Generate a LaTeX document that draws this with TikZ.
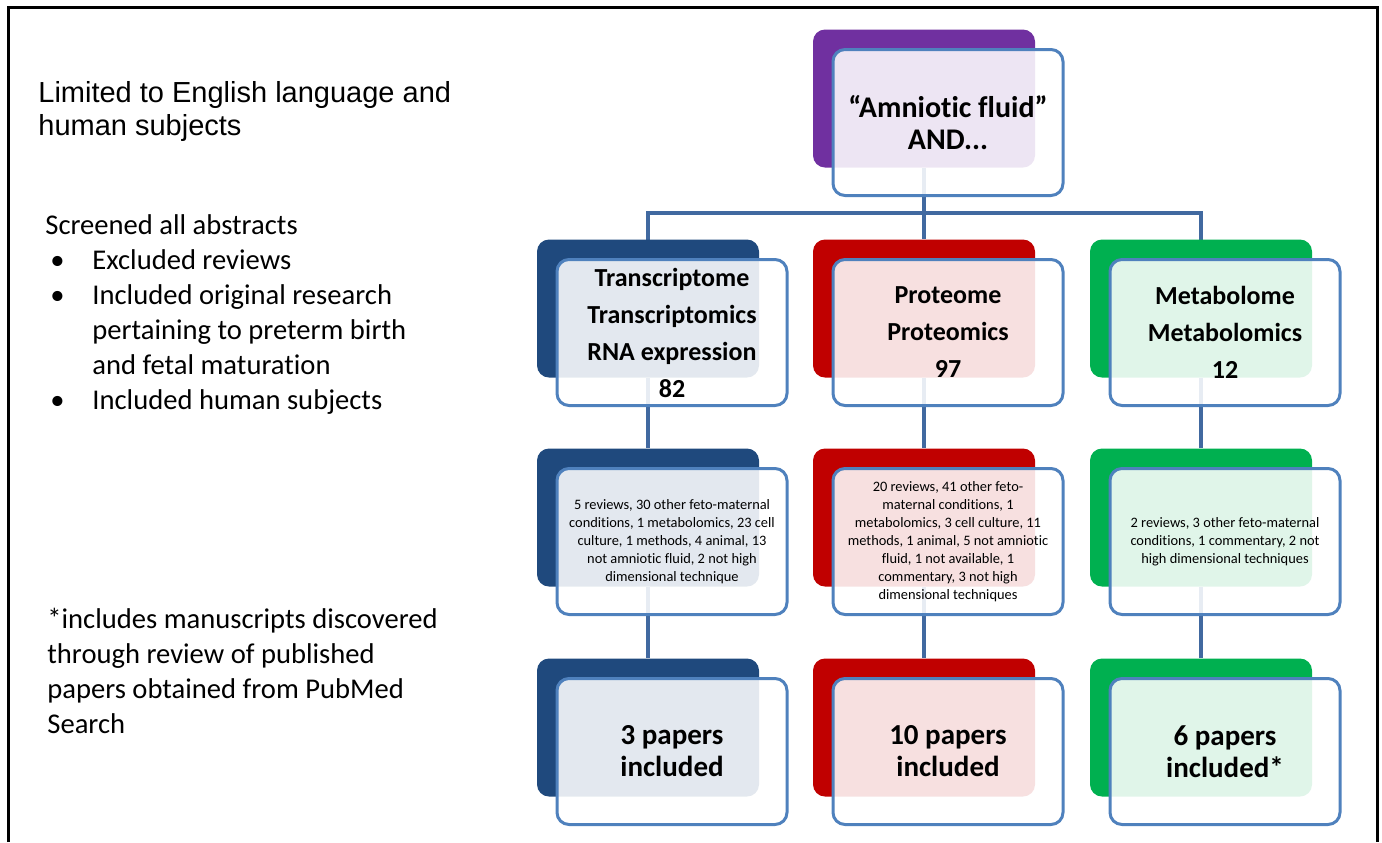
\documentclass[tikz,border=0pt]{standalone}
\usepackage{fontspec}
\setmainfont{Carlito}[Ligatures=NoCommon]
\newfontfamily\arialfont{Liberation Sans}
\usetikzlibrary{backgrounds}

\definecolor{boxnavy}{RGB}{31,73,125}
\definecolor{boxred}{RGB}{192,0,0}
\definecolor{boxgreen}{RGB}{0,176,80}
\definecolor{boxpurple}{RGB}{112,48,160}
\definecolor{rimblue}{RGB}{79,129,189}
\definecolor{linkblue}{RGB}{65,105,160}

\tikzset{
  backcard/.style={rounded corners=6pt, minimum width=111pt, minimum height=69pt, inner sep=0pt, fill=#1},
  frontcard/.style={rounded corners=6pt, minimum width=115pt, minimum height=73pt, inner sep=0pt,
    draw=rimblue, line width=1.5pt, fill=white, fill opacity=0.88, text opacity=1, align=center,
    xshift=12pt, yshift=-12pt},
  headtext/.style={font=\bfseries\fontsize{13}{18.5}\selectfont},
  notetext/.style={font=\fontsize{7.2}{9}\selectfont},
  counttext/.style={font=\bfseries\fontsize{14.5}{16}\selectfont},
  sidetext/.style={anchor=north west, inner sep=0pt, align=left},
  link/.style={draw=linkblue, line width=2pt},
}

\begin{document}
\begin{tikzpicture}[x=0.5pt, y=-0.5pt]
        \useasboundingbox (0,0) rectangle (1382,842);
        \draw [line width=1.5pt] (8,842) -- (8,7) -- (1377,7) -- (1377,842);

        % left column texts
        \node [sidetext, font=\arialfont\fontsize{14.5}{16.5}\selectfont] (limits) at (38,81)
          {Limited to English language and\\human subjects};
        \node [sidetext, font=\fontsize{14.3}{17.5}\selectfont] (screen) at (45,214)
          {Screened all abstracts\\
           \makebox[23.5pt][l]{\hspace*{2.5pt}\textbullet}Excluded reviews\\
           \makebox[23.5pt][l]{\hspace*{2.5pt}\textbullet}Included original research\\
           \hspace*{23.5pt}pertaining to preterm birth\\
           \hspace*{23.5pt}and fetal maturation\\
           \makebox[23.5pt][l]{\hspace*{2.5pt}\textbullet}Included human subjects};
        \node [sidetext, font=\fontsize{14.3}{17.5}\selectfont] (footnote) at (47,608)
          {*includes manuscripts discovered\\through review of published\\papers obtained from PubMed\\Search};

        % search term
        \node [backcard=boxpurple] (queryback) at (924,98.5) {};
        \node [frontcard, font=\bfseries\fontsize{15}{16}\selectfont] (query) at (queryback.center)
          {“Amniotic fluid”\\AND...};

        % first row
        \node [backcard=boxnavy] (transback) at (648,308.5) {};
        \node [frontcard, headtext] (trans) at (transback.center)
          {Transcriptome\\Transcriptomics\\RNA expression\\82};
        \node [backcard=boxred] (protback) at (924,308.5) {};
        \node [frontcard, headtext] (prot) at (protback.center)
          {Proteome\\Proteomics\\97};
        \node [backcard=boxgreen] (metabback) at (1201,308.5) {};
        \node [frontcard, headtext] (metab) at (metabback.center)
          {Metabolome\\Metabolomics\\12};

        % second row
        \node [backcard=boxnavy] (transexback) at (648,517.5) {};
        \node [frontcard, notetext] (transex) at (transexback.center)
          {5 reviews,  30 other feto-maternal\\conditions, 1 metabolomics,  23 cell\\culture, 1 methods, 4 animal,  13\\not amniotic fluid, 2 not high\\dimensional technique};
        \node [backcard=boxred] (protexback) at (924,517.5) {};
        \node [frontcard, notetext] (protex) at (protexback.center)
          {20 reviews,  41 other feto-\\maternal  conditions, 1\\metabolomics,  3 cell culture, 11\\methods, 1 animal,  5 not amniotic\\fluid, 1 not available,  1\\commentary,  3 not high\\dimensional techniques};
        \node [backcard=boxgreen] (metabexback) at (1201,517.5) {};
        \node [frontcard, notetext] (metabex) at (metabexback.center)
          {2 reviews,  3 other feto-maternal\\conditions, 1 commentary,  2 not\\high dimensional techniques};

        % third row
        \node [backcard=boxnavy] (transincback) at (648,727.5) {};
        \node [frontcard, counttext] (transinc) at (transincback.center)
          {3 papers\\included};
        \node [backcard=boxred] (protincback) at (924,727.5) {};
        \node [frontcard, counttext] (protinc) at (protincback.center)
          {10 papers\\included};
        \node [backcard=boxgreen] (metabincback) at (1201,727.5) {};
        \node [frontcard, counttext] (metabinc) at (metabincback.center)
          {6 papers\\included*};

        % connectors behind the cards
        \begin{scope}[on background layer]
          \coordinate (bus) at (924,213);
          \draw [link] (queryback) -- (bus);
          \draw [link] (transback.center) |- (bus) -| (metabback.center);
          \draw [link] (bus) -- (protback);
          \draw [link] (transback) -- (transexback);
          \draw [link] (protback) -- (protexback);
          \draw [link] (metabback) -- (metabexback);
          \draw [link] (transexback) -- (transincback);
          \draw [link] (protexback) -- (protincback);
          \draw [link] (metabexback) -- (metabincback);
        \end{scope}
      \end{tikzpicture}
\end{document}
